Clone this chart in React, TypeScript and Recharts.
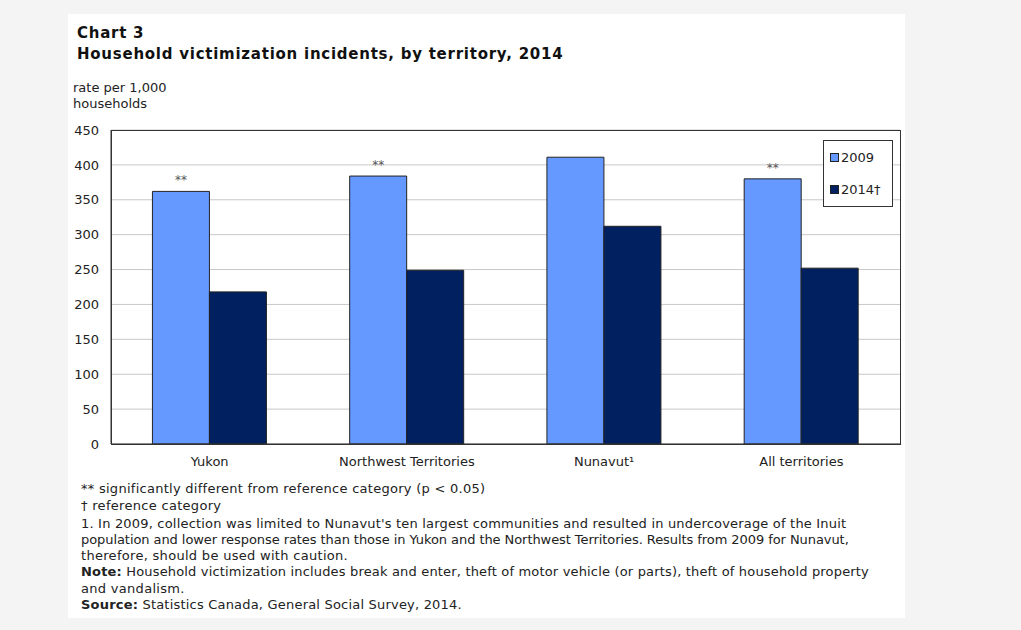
import React from "react";
import { BarChart, Bar, XAxis, YAxis, CartesianGrid, LabelList } from "recharts";

const categories = ["Yukon", "Northwest Territories", "Nunavut¹", "All territories"];
const values2009 = [362, 384, 411, 380];
const values2014 = [218, 249, 312, 252];
const significance2009 = ["**", "**", "", "**"];
const seriesNames = ["2009", "2014†"];
const yTicks = [0, 50, 100, 150, 200, 250, 300, 350, 400, 450];

const footnoteLines = [
  "** significantly different from reference category (p < 0.05)",
  "† reference category",
  "1. In 2009, collection was limited to Nunavut's ten largest communities and resulted in undercoverage of the Inuit",
  "population and lower response rates than those in Yukon and the Northwest Territories. Results from 2009 for Nunavut,",
  "therefore, should be used with caution.",
];
const noteLines = [
  "Household victimization includes break and enter, theft of motor vehicle (or parts), theft of household property",
  "and vandalism.",
];
const sourceText = "Statistics Canada, General Social Survey, 2014.";

const data = categories.map((c, i) => ({
  name: c,
  v2009: values2009[i],
  v2014: values2014[i],
  sig: significance2009[i],
}));

const COLORS = ["#6699ff", "#002060"];
const FONT = "'DejaVu Sans', Verdana, sans-serif";

const PLOT = { left: 111, top: 130, right: 900, bottom: 444 };

const LegendBox = () => (
  <div
    style={{
      position: "absolute",
      left: 823,
      top: 140,
      border: "1px solid #333",
      background: "#fff",
      width: 70,
      height: 67,
      boxSizing: "border-box",
      fontFamily: FONT,
      fontSize: 13,
      color: "#222",
      paddingLeft: 6,
      paddingTop: 8,
    }}
  >
    {seriesNames.map((n, i) => (
      <div key={n} style={{ display: "flex", alignItems: "center", height: 16, marginBottom: i === 0 ? 16 : 0, whiteSpace: "nowrap" }}>
        <span
          style={{
            display: "inline-block",
            width: 7,
            height: 7,
            background: COLORS[i],
            border: "1px solid #222",
            marginRight: 2,
          }}
        />
        <span>{n}</span>
      </div>
    ))}
  </div>
);

const SigLabel = (props: any) => {
  const { x, y, width, value } = props;
  if (!value) return null;
  return (
    <text x={x + width / 2} y={y - 7} textAnchor="middle" fontSize={12} fill="#555" fontFamily={FONT}>
      {value}
    </text>
  );
};

export default function App() {
  const textStyle: React.CSSProperties = {
    position: "absolute",
    fontFamily: FONT,
    fontSize: 13,
    color: "#222",
    lineHeight: "16.5px",
    margin: 0,
    whiteSpace: "nowrap",
  };
  return (
    <div style={{ position: "absolute", left: 0, top: 0, width: 1021, height: 630, background: "#f4f4f4" }}>
      <div style={{ position: "absolute", left: 68, top: 14, width: 837, height: 604, background: "#fff" }} />
      <div style={{ ...textStyle, left: 77, top: 23, fontWeight: "bold", fontSize: 15, lineHeight: "21px", color: "#111", letterSpacing: 0.75 }}>
        Chart 3
        <br />
        Household victimization incidents, by territory, 2014
      </div>
      <div style={{ ...textStyle, left: 73, top: 80, lineHeight: "16px" }}>
        rate per 1,000
        <br />
        households
      </div>
      <div style={{ position: "absolute", left: 0, top: 0 }}>
        <BarChart
          width={1021}
          height={630}
          data={data}
          margin={{ top: PLOT.top, right: 1021 - PLOT.right, bottom: 630 - PLOT.bottom - 30, left: 60 }}
          barCategoryGap="21%"
          barGap={0}
        >
          <CartesianGrid vertical={false} stroke="#c8c8c8" />
          <XAxis
            dataKey="name"
            height={30}
            tickLine={false}
            axisLine={{ stroke: "#333" }}
            tick={{ fontSize: 13, fill: "#222", fontFamily: FONT }}
            tickMargin={7}
          />
          <YAxis
            width={51}
            domain={[0, 450]}
            ticks={yTicks}
            tickLine={false}
            axisLine={{ stroke: "#333" }}
            tick={{ fontSize: 13, fill: "#222", fontFamily: FONT }}
            tickMargin={6}
            interval={0}
          />
          <Bar dataKey="v2009" name={seriesNames[0]} fill={COLORS[0]} stroke="#222" strokeWidth={1} isAnimationActive={false}>
            <LabelList dataKey="sig" content={<SigLabel />} />
          </Bar>
          <Bar dataKey="v2014" name={seriesNames[1]} fill={COLORS[1]} stroke="#222" strokeWidth={1} isAnimationActive={false} />
        </BarChart>
      </div>
      <div
        style={{
          position: "absolute",
          left: PLOT.left,
          top: PLOT.top,
          width: PLOT.right - PLOT.left + 1,
          height: PLOT.bottom - PLOT.top + 1,
          border: "1px solid #333",
          boxSizing: "border-box",
          pointerEvents: "none",
        }}
      />
      <LegendBox />
      <div style={{ ...textStyle, left: 81, top: 481, lineHeight: "16.3px" }}>
        <div style={{ letterSpacing: 0.27 }}>{footnoteLines[0]}</div>
        <div style={{ marginTop: 1, letterSpacing: 0.3 }}>{footnoteLines[1]}</div>
        <div style={{ marginTop: 1, letterSpacing: 0.19 }}>{footnoteLines[2]}</div>
        <div style={{ letterSpacing: -0.07 }}>{footnoteLines[3]}</div>
        <div style={{ letterSpacing: 0.3 }}>{footnoteLines[4]}</div>
        <div style={{ letterSpacing: 0.17 }}>
          <b>Note:</b> {noteLines[0]}
        </div>
        <div style={{ letterSpacing: 0.3 }}>{noteLines[1]}</div>
        <div style={{ letterSpacing: 0.2 }}>
          <b>Source:</b> {sourceText}
        </div>
      </div>
    </div>
  );
}
